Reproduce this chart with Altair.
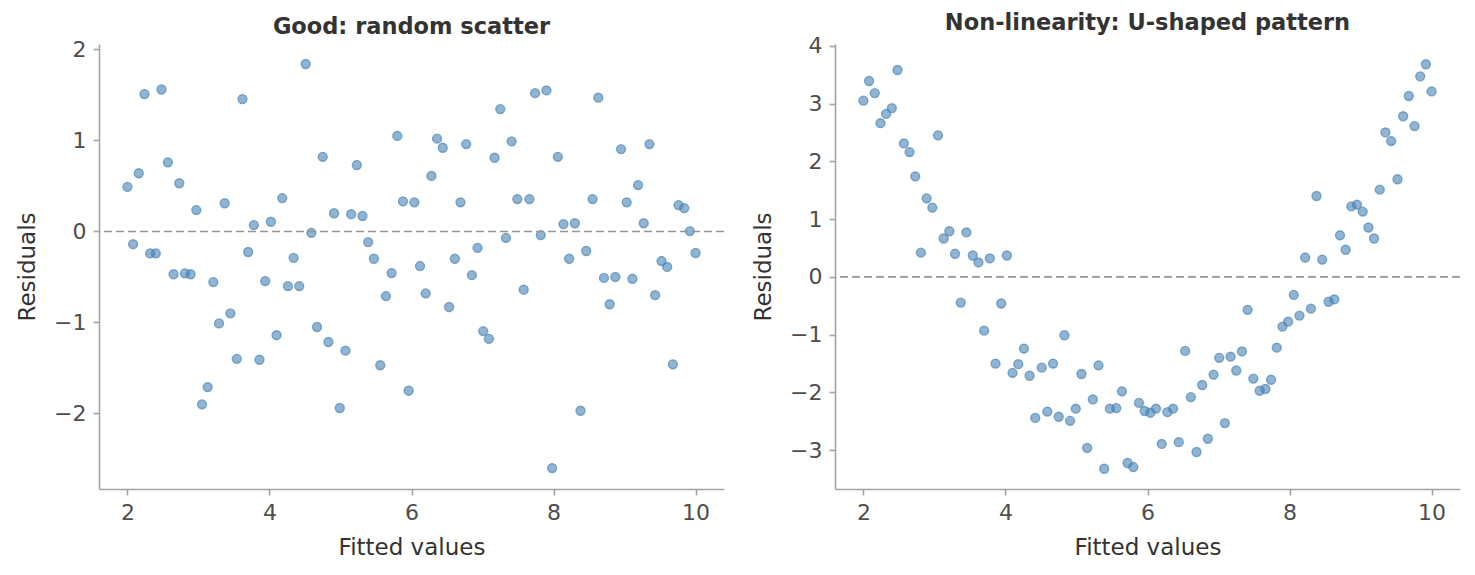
import altair as alt
import pandas as pd

fitted = [
    2.00, 2.08, 2.16, 2.24, 2.32, 2.40, 2.48, 2.57, 2.65, 2.73,
    2.81, 2.89, 2.97, 3.05, 3.13, 3.21, 3.29, 3.37, 3.45, 3.54,
    3.62, 3.70, 3.78, 3.86, 3.94, 4.02, 4.10, 4.18, 4.26, 4.34,
    4.42, 4.51, 4.59, 4.67, 4.75, 4.83, 4.91, 4.99, 5.07, 5.15,
    5.23, 5.31, 5.39, 5.47, 5.56, 5.64, 5.72, 5.80, 5.88, 5.96,
    6.04, 6.12, 6.20, 6.28, 6.36, 6.44, 6.53, 6.61, 6.69, 6.77,
    6.85, 6.93, 7.01, 7.09, 7.17, 7.25, 7.33, 7.41, 7.49, 7.58,
    7.66, 7.74, 7.82, 7.90, 7.98, 8.06, 8.14, 8.22, 8.30, 8.38,
    8.46, 8.55, 8.63, 8.71, 8.79, 8.87, 8.95, 9.03, 9.11, 9.19,
    9.27, 9.35, 9.43, 9.52, 9.60, 9.68, 9.76, 9.84, 9.92, 10.00,
]

resid_good = [
    0.49, -0.14, 0.64, 1.51, -0.24, -0.24, 1.56, 0.76, -0.47, 0.53,
    -0.46, -0.47, 0.235, -1.90, -1.71, -0.556, -1.01, 0.31, -0.90, -1.40,
    1.455, -0.226, 0.07, -1.41, -0.545, 0.107, -1.14, 0.367, -0.60, -0.29,
    -0.60, 1.84, -0.015, -1.05, 0.82, -1.215, 0.20, -1.94, -1.31, 0.19,
    0.73, 0.17, -0.117, -0.30, -1.47, -0.71, -0.457, 1.05, 0.33, -1.75,
    0.32, -0.38, -0.68, 0.61, 1.02, 0.92, -0.83, -0.30, 0.32, 0.96,
    -0.48, -0.18, -1.095, -1.18, 0.81, 1.345, -0.07, 0.99, 0.356, -0.64,
    0.356, 1.52, -0.04, 1.55, -2.60, 0.82, 0.08, -0.30, 0.09, -1.97,
    -0.215, 0.356, 1.47, -0.51, -0.80, -0.50, 0.905, 0.32, -0.52, 0.51,
    0.09, 0.96, -0.70, -0.325, -0.39, -1.46, 0.29, 0.257, 0.004, -0.237,
]

resid_ushape = [
    3.05, 3.39, 3.18, 2.66, 2.82, 2.92, 3.58, 2.31, 2.16, 1.74,
    0.42, 1.36, 1.20, 2.45, 0.665, 0.79, 0.40, -0.445, 0.77, 0.37,
    0.25, -0.93, 0.32, -1.50, -0.46, 0.37, -1.66, -1.51, -1.24, -1.71,
    -2.44, -1.57, -2.33, -1.50, -2.42, -1.01, -2.49, -2.28, -1.68, -2.96,
    -2.12, -1.53, -3.32, -2.28, -2.27, -1.98, -3.22, -3.29, -2.18, -2.32,
    -2.35, -2.28, -2.89, -2.34, -2.28, -2.86, -1.28, -2.08, -3.03, -1.87,
    -2.80, -1.69, -1.40, -2.53, -1.38, -1.62, -1.29, -0.57, -1.76, -1.97,
    -1.94, -1.78, -1.225, -0.86, -0.775, -0.31, -0.67, 0.335, -0.55, 1.40,
    0.30, -0.43, -0.39, 0.72, 0.47, 1.22, 1.25, 1.13, 0.855, 0.665,
    1.51, 2.50, 2.35, 1.69, 2.78, 3.13, 2.61, 3.47, 3.68, 3.21,
]

titles = ["Good: random scatter", "Non-linearity: U-shaped pattern"]
x_ticks = [2, 4, 6, 8, 10]
y_ticks_good = [-2, -1, 0, 1, 2]
y_ticks_ushape = [-3, -2, -1, 0, 1, 2, 3, 4]

FONT = "DejaVu Sans"
BLUE = "#4682b4"
SPINE = "#a3a3a3"


def panel(resid, title, ydomain, yticks):
    df = pd.DataFrame({"fitted": fitted, "resid": resid})
    x = alt.X("fitted:Q", title="Fitted values",
              scale=alt.Scale(domain=[1.6, 10.4], nice=False, zero=False),
              axis=alt.Axis(values=x_ticks, format="d"))
    y = alt.Y("resid:Q", title="Residuals",
              scale=alt.Scale(domain=ydomain, nice=False, zero=False),
              axis=alt.Axis(values=yticks, format="d"))
    pts = alt.Chart(df).mark_circle(
        size=80, fill=BLUE, fillOpacity=0.6, stroke=BLUE,
        strokeOpacity=0.65, strokeWidth=1.4,
    ).encode(x=x, y=y)
    zero = alt.Chart(pd.DataFrame({"z": [0]})).mark_rule(
        color="#959595", strokeWidth=1.6, strokeDash=[8, 4]
    ).encode(y=alt.Y("z:Q"))
    return alt.layer(pts, zero).properties(
        width=625, height=445,
        title=alt.TitleParams(title, fontSize=22.5, fontWeight="bold",
                              color="#333333", font=FONT, offset=0),
    )


left = panel(resid_good, titles[0], [-2.83, 2.06], y_ticks_good)
right = panel(resid_ushape, titles[1], [-3.67, 4.03], y_ticks_ushape)

chart = alt.hconcat(left, right, spacing=27).configure_view(
    stroke=None
).configure_axis(
    grid=False,
    domainColor=SPINE, domainWidth=1.6,
    tickColor=SPINE, tickWidth=1.6, tickSize=6,
    labelFont=FONT, labelFontSize=22, labelColor="#4d4d4d", labelPadding=7,
    titleFont=FONT, titleFontSize=23, titleColor="#333333",
    titleFontWeight="normal",
).configure_axisX(
    titlePadding=13,
).configure_axisY(
    titlePadding=14,
).properties(
    padding={"left": 8, "top": 4, "right": 5, "bottom": 5}
)

chart.save("out.html", embed_options={"renderer": "svg", "actions": False})
